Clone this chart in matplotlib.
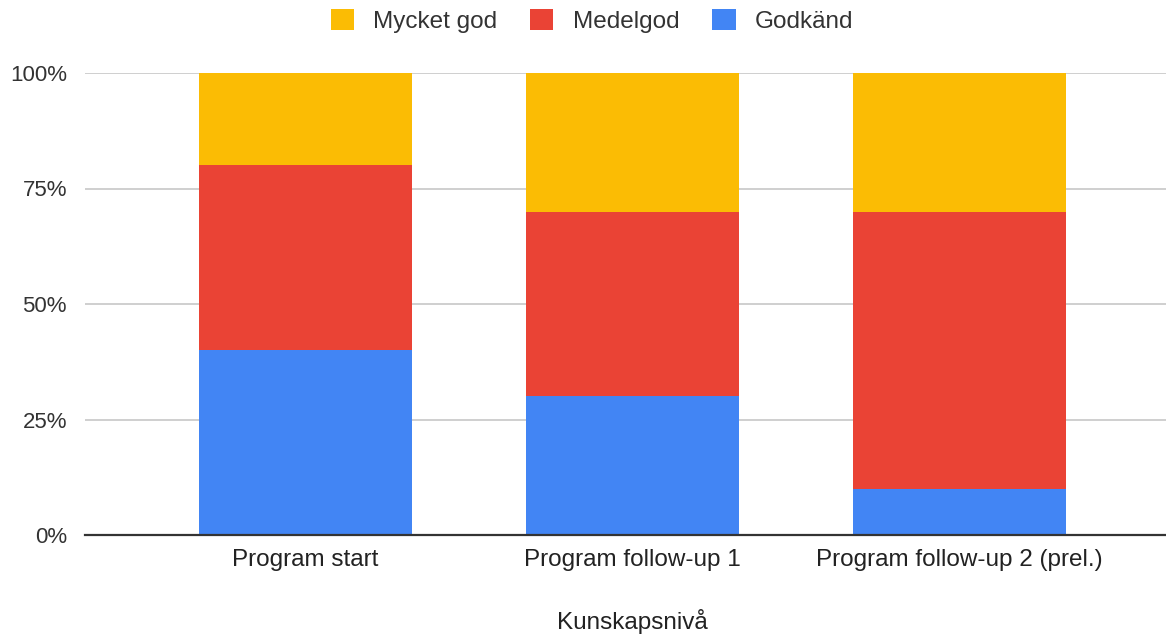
import matplotlib.pyplot as plt
import numpy as np

plt.rcParams['font.family'] = ['Liberation Sans', 'DejaVu Sans']

# data
categories = ["Program start", "Program follow-up 1", "Program follow-up 2 (prel.)"]
godkand = [40, 30, 10]
medelgod = [40, 40, 60]
mycket_god = [20, 30, 30]
y_ticks = [0, 25, 50, 75, 100]
y_tick_labels = ["0%", "25%", "50%", "75%", "100%"]

c_yellow = "#FBBC04"
c_red = "#EA4335"
c_blue = "#4285F4"

W, H = 1166, 634
fig = plt.figure(figsize=(W / 100, H / 100), dpi=100)
# axis runs off the right edge like the screenshot
left_px, right_px = 85, 1180
top_px, bottom_px = 73, 535
ax = fig.add_axes([left_px / W, 1 - bottom_px / H,
                   (right_px - left_px) / W, (bottom_px - top_px) / H])

x = np.arange(len(categories))
bw = 0.65
ax.bar(x, godkand, bw, color=c_blue, label="Godkänd", zorder=3)
ax.bar(x, medelgod, bw, bottom=godkand, color=c_red, label="Medelgod", zorder=3)
bottom2 = np.array(godkand) + np.array(medelgod)
ax.bar(x, mycket_god, bw, bottom=bottom2, color=c_yellow, label="Mycket god", zorder=3)

ax.set_xlim(-0.675, 2.675)
ax.set_ylim(0, 100)
ax.set_yticks(y_ticks)
ax.set_yticklabels(y_tick_labels, fontsize=16, color="#333333")
ax.set_xticks(x)
ax.set_xticklabels(categories, fontsize=17.5, color="#222222")
ax.tick_params(length=0)
ax.tick_params(axis="y", pad=13)
ax.tick_params(axis="x", pad=10)

ax.grid(axis="y", color="#cccccc", linewidth=1.3, zorder=0)
for s in ["top", "right", "left"]:
    ax.spines[s].set_visible(False)
ax.spines["bottom"].set_color("#333333")
ax.spines["bottom"].set_linewidth(1.6)
ax.spines["bottom"].set_zorder(4)

fig.text(632 / W, 1 - 621 / H, "Kunskapsnivå", ha="center", va="center",
         fontsize=17.5, color="#222222")

handles, labels = ax.get_legend_handles_labels()
leg = fig.legend(handles[::-1], labels[::-1], loc="center",
                 bbox_to_anchor=(592 / W, 1 - 21 / H), ncol=3, frameon=False,
                 fontsize=17.5, handlelength=0.95, handleheight=0.95,
                 handletextpad=0.8, columnspacing=1.36, labelcolor="#333333")

fig.savefig("out.png", dpi=100)
